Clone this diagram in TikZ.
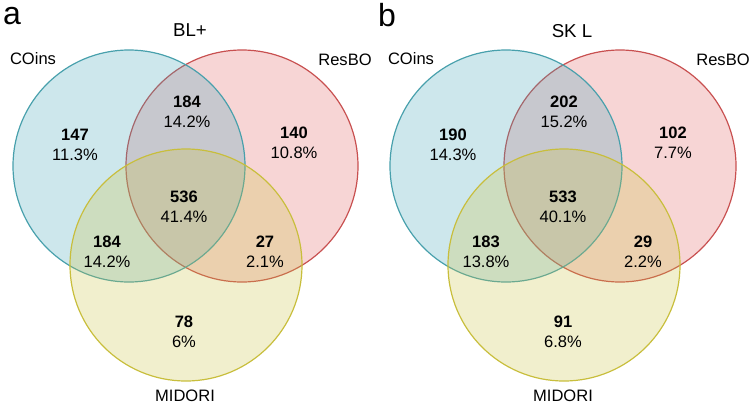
\documentclass[tikz,border=0pt]{standalone}
\usepackage{fontspec}
\setmainfont{Liberation Sans}
\usetikzlibrary{positioning}

\definecolor{coinsline}{RGB}{72,160,172}
\definecolor{coinsfill}{RGB}{70,165,185}
\definecolor{resboline}{RGB}{200,80,80}
\definecolor{resbofill}{RGB}{225,100,100}
\definecolor{midoriline}{RGB}{200,190,60}
\definecolor{midorifill}{RGB}{205,195,70}

\begin{document}
\begin{tikzpicture}[
  x=0.75pt,y=-0.75pt,
  set/.style={circle, draw, line width=0.9pt, fill opacity=0.27, minimum size=174pt, inner sep=0pt},
  count/.style={align=center, font=\fontsize{12.4}{14.8}\selectfont, inner sep=0pt},
  setlabel/.style={font=\fontsize{12.4}{14}\selectfont, inner sep=0pt},
  title/.style={font=\fontsize{14}{16}\selectfont, inner sep=0pt},
  panel/.style={font=\fontsize{24}{26}\selectfont, inner sep=0pt}
]
\useasboundingbox (0,0) rectangle (750,404);
% panel a
\node[set, draw=resboline, fill=resbofill] (resboA) at (242,166) {};
\node[set, draw=coinsline, fill=coinsfill] (coinsA) at (129,166) {};
\node[set, draw=midoriline, fill=midorifill] (midoriA) at (186,265) {};
\node[panel] (labA) at (12,16) {a};
\node[title] (titleA) at (190,30) {BL+};
\node[setlabel] (nameCoinsA) at (33,59) {COins};
\node[setlabel] (nameResboA) at (345,60) {ResBO};
\node[setlabel] (nameMidoriA) at (185,396) {MIDORI};
\node[count] (onlyCoinsA) at (75,145) {\textbf{147}\\11.3\%};
\node[count] (coinsResboA) at (187,112) {\textbf{184}\\14.2\%};
\node[count] (onlyResboA) at (294,143) {\textbf{140}\\10.8\%};
\node[count] (allA) at (184,207) {\textbf{536}\\41.4\%};
\node[count] (coinsMidoriA) at (107,252) {\textbf{184}\\14.2\%};
\node[count] (resboMidoriA) at (265,252) {\textbf{27}\\2.1\%};
\node[count] (onlyMidoriA) at (184,332) {\textbf{78}\\6\%};
% panel b
\node[set, draw=resboline, fill=resbofill] (resboB) at (620,166) {};
\node[set, draw=coinsline, fill=coinsfill] (coinsB) at (506,166) {};
\node[set, draw=midoriline, fill=midorifill] (midoriB) at (564,265) {};
\node[panel] (labB) at (387,15) {b};
\node[title] (titleB) at (572,31) {SK L};
\node[setlabel] (nameCoinsB) at (411,59) {COins};
\node[setlabel] (nameResboB) at (723,60) {ResBO};
\node[setlabel] (nameMidoriB) at (563,396) {MIDORI};
\node[count] (onlyCoinsB) at (453,145) {\textbf{190}\\14.3\%};
\node[count] (coinsResboB) at (564,112) {\textbf{202}\\15.2\%};
\node[count] (onlyResboB) at (673,143) {\textbf{102}\\7.7\%};
\node[count] (allB) at (563,207) {\textbf{533}\\40.1\%};
\node[count] (coinsMidoriB) at (486,252) {\textbf{183}\\13.8\%};
\node[count] (resboMidoriB) at (643,252) {\textbf{29}\\2.2\%};
\node[count] (onlyMidoriB) at (563,332) {\textbf{91}\\6.8\%};
\end{tikzpicture}
\end{document}
